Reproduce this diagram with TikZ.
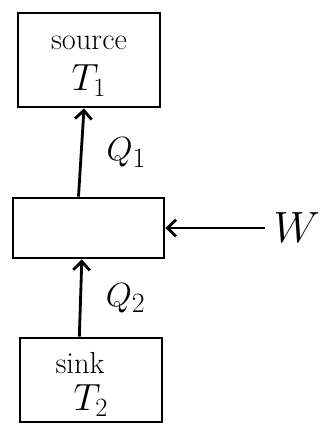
\documentclass[tikz,border=0pt]{standalone}
\usepackage{amsmath}
\usepackage{tikz}
\usetikzlibrary{arrows.meta}

\begin{document}
\begin{tikzpicture}[x = 0.03cm, y = -0.03cm,
		box/.style = {draw, line width = 2.4pt, inner sep = 0pt},
		boxtext/.style = {font = \fontsize{26}{28}\selectfont},
		flow/.style = {line width = 2.4pt, -{Straight Barb[length = 2.6mm, width = 5mm, line width = 2.4pt]}},
		lbl/.style = {font = \Huge, scale = 1.15}]
				\useasboundingbox (0, 0) rectangle (326, 437);

				% reservoirs and engine
				\node[box, minimum width = 4.26cm, minimum height = 2.82cm](source) at (89, 60) {};
				\node[box, minimum width = 4.53cm, minimum height = 1.80cm](engine) at (88.5, 228) {};
				\node[box, minimum width = 4.26cm, minimum height = 2.52cm](sink) at (91, 380) {};

				\node[boxtext](sourcename) at ([yshift = 0.5cm]source.center) {source};
				\node[boxtext](sourcetemp) at ([yshift = -0.62cm]source.center) {\scalebox{1.3}{$T_1$}};
				\node[boxtext](sinkname) at ([xshift = -0.33cm, yshift = 0.5cm]sink.center) {sink};
				\node[boxtext](sinktemp) at ([yshift = -0.62cm]sink.center) {\scalebox{1.3}{$T_2$}};

				\coordinate[](wend) at (265, 228);

				\draw[flow] ([xshift = -0.3cm]engine.north) -- ([xshift = -0.15cm]source.south)
					node[lbl, midway, right = 0.5cm]{$Q_1$};
				\draw[flow] ([xshift = -0.35cm]sink.north) -- ([xshift = -0.2cm]engine.south)
					node[lbl, midway, right = 0.5cm]{$Q_2$};
				\draw[flow] (wend) -- (engine.east);

				\node[font = \Huge, scale = 1.5, right = 0.05cm](w) at (wend) {$W$};
			\end{tikzpicture}
\end{document}
